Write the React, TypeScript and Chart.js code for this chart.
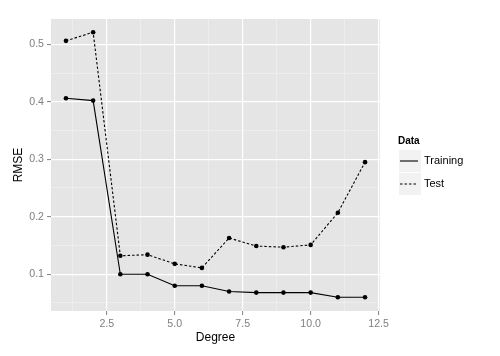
import React, { useEffect, useRef } from "react";
import { Chart, registerables } from "chart.js";

Chart.register(...registerables);

const degrees = [1, 2, 3, 4, 5, 6, 7, 8, 9, 10, 11, 12];
const trainingRmse = [0.406, 0.402, 0.1, 0.1, 0.08, 0.08, 0.07, 0.068, 0.068, 0.068, 0.06, 0.06];
const testRmse = [0.506, 0.521, 0.132, 0.134, 0.118, 0.111, 0.163, 0.149, 0.147, 0.151, 0.207, 0.295];
const xMajorTicks = [2.5, 5, 7.5, 10, 12.5];
const xMinorTicks = [1.25, 3.75, 6.25, 8.75, 11.25];
const yMajorTicks = [0.1, 0.2, 0.3, 0.4, 0.5];
const yMinorTicks = [0.05, 0.15, 0.25, 0.35, 0.45];
const seriesNames = ["Training", "Test"];
const legendTitle = "Data";
const xTitle = "Degree";
const yTitle = "RMSE";

const FONT = "'Liberation Sans', Arial, sans-serif";
const isIn = (arr: number[], v: number) => arr.some((a) => Math.abs(a - v) < 1e-9);

const panelBg = {
  id: "panelBg",
  beforeDraw(chart: any) {
    const { ctx, chartArea: a } = chart;
    ctx.save();
    ctx.fillStyle = "#E5E5E5";
    ctx.fillRect(a.left, a.top, a.right - a.left, a.bottom - a.top);
    ctx.restore();
  },
};

const ggLegend = {
  id: "ggLegend",
  afterDraw(chart: any) {
    const { ctx } = chart;
    const x0 = 399;
    ctx.save();
    ctx.fillStyle = "#000";
    ctx.font = `bold 10px ${FONT}`;
    ctx.textBaseline = "middle";
    ctx.textAlign = "left";
    ctx.fillText(legendTitle, 398, 141);
    chart.data.datasets.forEach((ds: any, i: number) => {
      const top = 150 + i * 23;
      ctx.fillStyle = "#F2F2F2";
      ctx.fillRect(x0, top, 22, 22);
      const cy = top + 11;
      ctx.strokeStyle = "#000";
      ctx.lineWidth = ds.borderWidth;
      ctx.setLineDash(ds.borderDash || []);
      ctx.beginPath();
      ctx.moveTo(x0 + 1, cy);
      ctx.lineTo(x0 + 19, cy);
      ctx.stroke();
      ctx.setLineDash([]);
      ctx.fillStyle = "#000";
      ctx.font = `11px ${FONT}`;
      ctx.fillText(ds.label, 424, cy);
    });
    ctx.restore();
  },
};

export default function App() {
  const ref = useRef<HTMLCanvasElement>(null);
  useEffect(() => {
    if (!ref.current) return;
    const mk = (xs: number[], ys: number[]) => xs.map((x, i) => ({ x, y: ys[i] }));
    const chart = new Chart(ref.current, {
      type: "line",
      data: {
        datasets: [
          {
            label: seriesNames[0],
            data: mk(degrees, trainingRmse),
            borderColor: "#000",
            backgroundColor: "#000",
            borderWidth: 1.1,
            pointRadius: 2.3,
            pointBorderWidth: 0,
            tension: 0,
          },
          {
            label: seriesNames[1],
            data: mk(degrees, testRmse),
            borderColor: "#000",
            backgroundColor: "#000",
            borderWidth: 1.1,
            borderDash: [2.5, 2],
            pointRadius: 2.3,
            pointBorderWidth: 0,
            tension: 0,
          },
        ],
      },
      options: {
        responsive: false,
        animation: false,
        layout: { padding: { top: 19, right: 120, left: 0, bottom: 0 } },
        plugins: { legend: { display: false }, tooltip: { enabled: false } },
        scales: {
          x: {
            type: "linear",
            min: 0.45,
            max: 12.55,
            afterFit: (s: any) => {
              s.height = 45;
            },
            afterBuildTicks: (s: any) => {
              s.ticks = [...xMinorTicks, ...xMajorTicks].sort((a, b) => a - b).map((v) => ({ value: v }));
            },
            border: { display: false },
            grid: {
              color: (c: any) => (isIn(xMajorTicks, c.tick?.value) ? "#FFFFFF" : "#F2F2F2"),
              lineWidth: (c: any) => (isIn(xMajorTicks, c.tick?.value) ? 1.2 : 0.6),
              tickColor: (c: any) => (isIn(xMajorTicks, c.tick?.value) ? "#7F7F7F" : "rgba(0,0,0,0)"),
              tickLength: 4,
              tickWidth: 1,
            },
            ticks: {
              autoSkip: false,
              maxRotation: 0,
              padding: 3,
              color: "#7F7F7F",
              font: { family: FONT, size: 10.6 },
              callback: (v: any) => (isIn(xMajorTicks, Number(v)) ? Number(v).toFixed(1) : ""),
            },
            title: {
              display: true,
              text: xTitle,
              color: "#000",
              font: { family: FONT, size: 12 },
              padding: { top: 0, bottom: 11 },
            },
          },
          y: {
            type: "linear",
            min: 0.036,
            max: 0.544,
            afterFit: (s: any) => {
              s.width = 51;
            },
            afterBuildTicks: (s: any) => {
              s.ticks = [...yMinorTicks, ...yMajorTicks].sort((a, b) => a - b).map((v) => ({ value: v }));
            },
            border: { display: false },
            grid: {
              color: (c: any) => (isIn(yMajorTicks, c.tick?.value) ? "#FFFFFF" : "#F2F2F2"),
              lineWidth: (c: any) => (isIn(yMajorTicks, c.tick?.value) ? 1.2 : 0.6),
              tickColor: (c: any) => (isIn(yMajorTicks, c.tick?.value) ? "#7F7F7F" : "rgba(0,0,0,0)"),
              tickLength: 4,
              tickWidth: 1,
            },
            ticks: {
              autoSkip: false,
              padding: 3,
              color: "#7F7F7F",
              font: { family: FONT, size: 10.6 },
              callback: (v: any) => (isIn(yMajorTicks, Number(v)) ? Number(v).toFixed(1) : ""),
            },
            title: {
              display: true,
              text: yTitle,
              color: "#000",
              font: { family: FONT, size: 12 },
              padding: { top: 11, bottom: 0 },
            },
          },
        },
      },
      plugins: [panelBg, ggLegend],
    } as any);
    return () => chart.destroy();
  }, []);
  return (
    <div style={{ position: "fixed", left: 0, top: 0, width: 500, height: 356, background: "#fff" }}>
      <canvas ref={ref} width={500} height={356} style={{ display: "block", width: 500, height: 356 }} />
    </div>
  );
}
